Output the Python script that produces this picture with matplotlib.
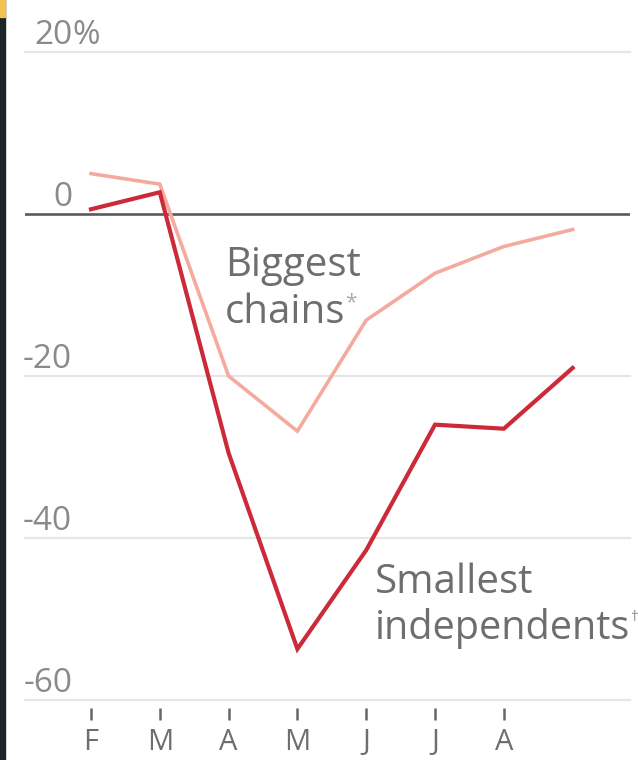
import matplotlib
matplotlib.use("Agg")
import matplotlib.pyplot as plt
from matplotlib.patches import Rectangle

# ---- data ----
months = ["F", "M", "A", "M", "J", "J", "A", "S"]
month_labels = ["F", "M", "A", "M", "J", "J", "A"]
biggest_chains = [5.0, 3.7, -20.0, -26.8, -13.1, -7.3, -4.0, -1.9]
smallest_independents = [0.6, 2.7, -29.5, -53.7, -41.5, -26.0, -26.5, -19.0]
y_ticks = [20, 0, -20, -40, -60]

FONT = "Open Sans"
TXT = "#6e6e6e"
RED = "#cc2a38"
PINK = "#f4aa9e"

W, H = 638, 760
fig = plt.figure(figsize=(W / 100, H / 100), dpi=100)
fig.patch.set_facecolor("white")

# dark strip and yellow marker on the left edge
fig.patches.append(Rectangle((0, 0), 5 / W, 1, transform=fig.transFigure,
                             color="#1b2428", zorder=0))
fig.patches.append(Rectangle((0, 1 - 17 / H), 5 / W, 17 / H, transform=fig.transFigure,
                             color="#f3c24f", zorder=1))

left, right = 25 / W, 630 / W
bottom, top = (H - 700) / H, (H - 40) / H
ax = fig.add_axes([left, bottom, right - left, top - bottom])
x = list(range(len(months)))
ax.set_xlim(-0.959, 7.834)
ax.set_ylim(-60, 21.5)

for s in ax.spines.values():
    s.set_visible(False)
ax.spines["bottom"].set_position(("outward", 6))

# gridlines
for v in y_ticks:
    if v == 0:
        ax.axhline(v, color="#5a5a5a", lw=1.9, zorder=2)
    else:
        ax.axhline(v, color="#e6e6e6", lw=1.6, zorder=1, clip_on=False)

# y labels above gridlines
for v in y_ticks:
    t = ax.annotate(str(v), xy=(0, v), xycoords=("axes fraction", "data"),
                    xytext=(34, 0), textcoords="offset points",
                    ha="right", va="bottom", fontsize=24, color="#8a8a8a",
                    family=FONT)
    if v == y_ticks[0]:
        ax.annotate("%", xy=(1, 0), xycoords=t, ha="left", va="bottom",
                    fontsize=24, color="#8a8a8a", family=FONT)

# x ticks
ax.set_xticks(x[:len(month_labels)])
ax.set_xticklabels(month_labels, family=FONT, fontsize=21, color=TXT)
ax.tick_params(axis="x", length=8.5, width=1.8, color="#666666", pad=6)
ax.set_yticks([])

# lines
ax.plot(x, biggest_chains, color=PINK, lw=2.6, solid_joinstyle="miter", zorder=3)
ax.plot(x, smallest_independents, color=RED, lw=3.0, solid_joinstyle="miter", zorder=4)

# labels
ax.text(1.95, -7.6, "Biggest", family=FONT, fontsize=29, color=TXT, va="baseline")
t2 = ax.text(1.95, -13.5, "chains", family=FONT, fontsize=29, color=TXT, va="baseline")
ax.annotate("*", xy=(1, 0.75), xycoords=t2, ha="left", va="center",
            family=FONT, fontsize=15, color="#aaaaaa")
ax.text(4.13, -46.8, "Smallest", family=FONT, fontsize=29, color=TXT, va="baseline")
t4 = ax.text(4.12, -52.5, "independents", family=FONT, fontsize=28.5, color=TXT,
             va="baseline", clip_on=False)
ax.annotate("\u2020", xy=(1, 0.78), xycoords=t4, ha="left", va="center",
            family=FONT, fontsize=11, color="#888888", annotation_clip=False)

fig.savefig("out.png", dpi=100, facecolor="white")
